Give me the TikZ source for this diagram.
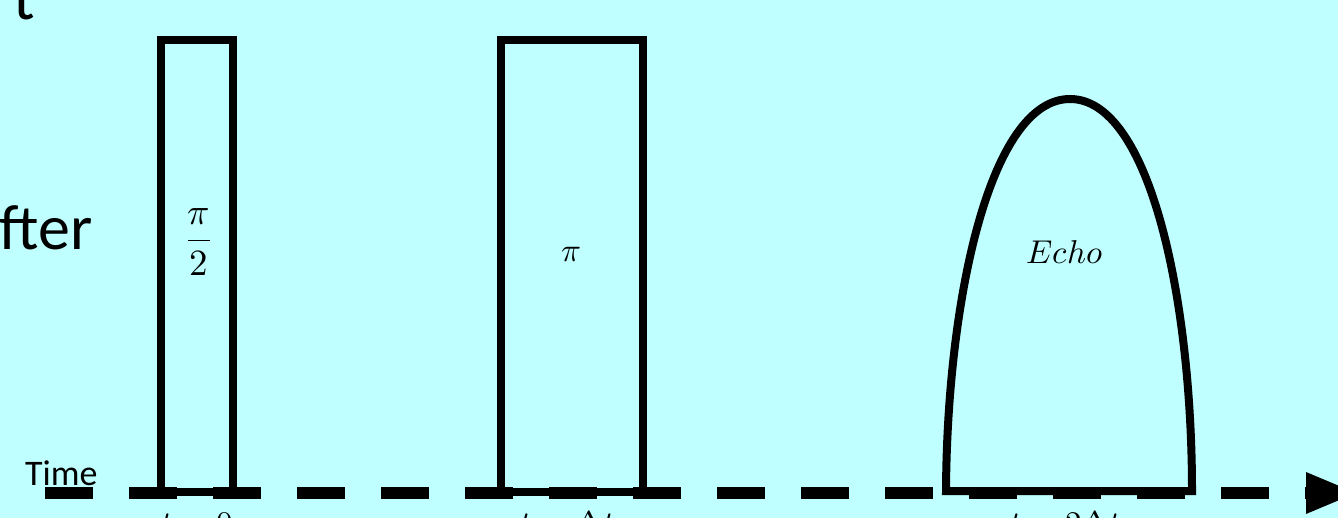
\documentclass[tikz,border=0pt]{standalone}
\usepackage{unicode-math}
\setmainfont{Carlito}
\setmathfont{Latin Modern Math}
\usetikzlibrary{arrows.meta}
\definecolor{slidebg}{RGB}{191,255,255}
\begin{document}
\begin{tikzpicture}[x=1pt, y=-1pt,
    pulse/.style={draw, line width=8pt, inner sep=0pt},
    mathlbl/.style={font=\fontsize{33}{40}\selectfont, inner sep=0pt},
    slidetxt/.style={font=\fontsize{64}{76}\selectfont, inner sep=0pt}]
    \useasboundingbox (0,0) rectangle (1338,518);
    \clip (0,0) rectangle (1338,518);
    \fill[slidebg] (0,0) rectangle (1338,518);

    % text left over from the slide
    \node[slidetxt, anchor=base west] (tchar) at (13,20) {t};
    \node[slidetxt, anchor=base east] (fter) at (93,250) {fter};
    \node[font=\fontsize{36}{43}\selectfont, inner sep=0pt, anchor=base west] (time) at (25,485) {Time};

    % the two pulses
    \node[pulse, minimum width=72pt, minimum height=452pt] (half) at (197,266) {};
    \node[pulse, minimum width=142pt, minimum height=452pt] (full) at (572,266) {};

    \node[mathlbl, font=\fontsize{37}{44}\selectfont] (halflbl) at (199,242) {$\displaystyle\frac{\pi}{2}$};
    \node[mathlbl] (fulllbl) at (571,255) {$\pi$};

    % echo
    \draw[line width=8pt] (946,491) .. controls (947,300) and (990,99) .. (1070,99)
        .. controls (1150,99) and (1192,300) .. (1192,491) -- cycle;
    \node[mathlbl] (echolbl) at (1065,252) {$Echo$};

    % time axis
    \coordinate (tail) at (45,493);
    \coordinate (head) at (1358,493);
    \draw[line width=12pt, dash pattern=on 48pt off 36pt, -{Triangle[length=52pt,width=38pt]}] (tail) -- (head);

    \node[mathlbl, anchor=base] (t0) at (197,534) {$t=0$};
    \node[mathlbl, anchor=base] (t1) at (567,534) {$t=\Delta t$};
    \node[mathlbl, anchor=base] (t2) at (1065,534) {$t=2\Delta t$};
\end{tikzpicture}
\end{document}
